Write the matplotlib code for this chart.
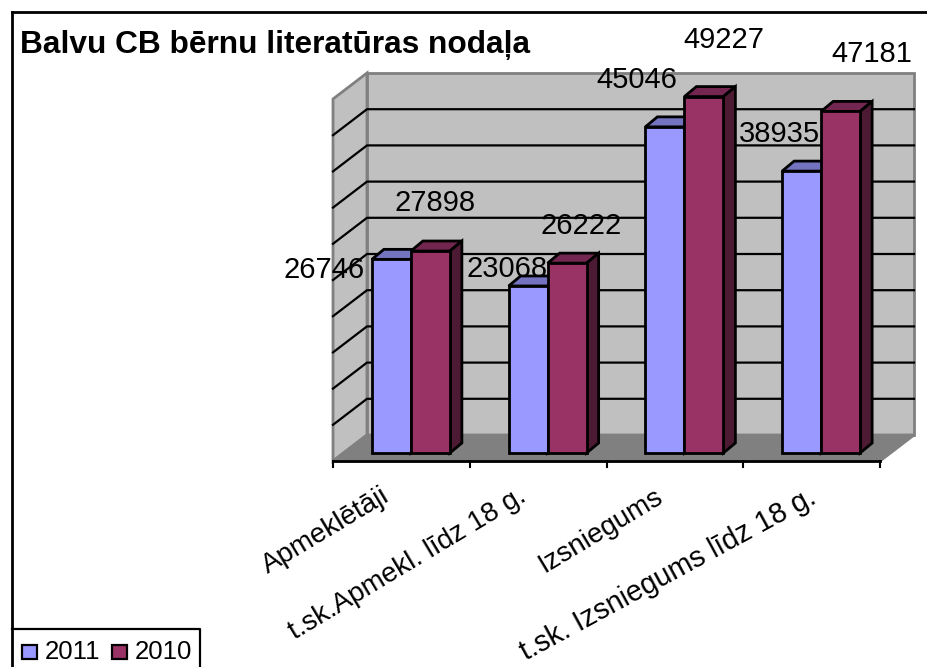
import matplotlib
matplotlib.use("Agg")
import matplotlib.pyplot as plt
from matplotlib.patches import Polygon, Rectangle

plt.rcParams['font.family'] = ['Liberation Sans', 'DejaVu Sans']

### data
categories = ['Apmeklētāji', 't.sk.Apmekl. līdz 18 g.', 'Izsniegums', 't.sk. Izsniegums līdz 18 g.']
years = ['2011', '2010']
v2011 = [26746, 23068, 45046, 38935]
v2010 = [27898, 26222, 49227, 47181]
y_ticks = [0, 5000, 10000, 15000, 20000, 25000, 30000, 35000, 40000, 45000, 50000]

### colours
blue, blue_top = '#9999FF', '#7373BF'
red, red_top, red_side = '#993366', '#732650', '#4D1A33'
wall, floor, edge = '#C0C0C0', '#808080', '#808080'

W, H = 928, 667
fig = plt.figure(figsize=(W/100, H/100), dpi=100)

# pixel layer for the frame, title and legend
bg = fig.add_axes([0, 0, 1, 1])
bg.set_xlim(0, W)
bg.set_ylim(H, 0)
bg.axis('off')

# front plane of the chart: 333..880 px, 461..99 px
x0, x1, y0, y1 = 333, 880, 461, 99
ax = fig.add_axes([x0/W, 1-y0/H, (x1-x0)/W, (y0-y1)/H])
ax.set_xlim(0, 4)
ax.set_ylim(0, 50000)
ax.axis('off')

px = 4/(x1-x0)
py = 50000/(y0-y1)
dx, dy = 34*px, 26*py       # depth of the box
bdx, bdy = 12*px, 10*py     # depth of a bar
sx, sy = 10.5*px, 8*py      # bar front plane behind chart front
bw = 39*px                  # bar width
lw = 2.0


def poly(pts, fc, ec='black', lw=lw, z=3):
    ax.add_patch(Polygon(pts, closed=True, fc=fc, ec=ec, lw=lw, zorder=z, clip_on=False, joinstyle='miter'))


# walls and floor
poly([(0, 0), (dx, dy), (dx, 50000+dy), (0, 50000)], wall, edge, 2, 1)
poly([(dx, dy), (4+dx, dy), (4+dx, 50000+dy), (dx, 50000+dy)], wall, edge, 2, 1)
poly([(0, 0), (4, 0), (4+dx, dy), (dx, dy)], floor, edge, 2, 1)
for t in y_ticks[1:-1]:
    ax.plot([0, dx, 4+dx], [t, t+dy, t+dy], color='black', lw=1.6, zorder=1.5, clip_on=False)

# axis line and ticks
ax.plot([0, 4], [0, 0], color='black', lw=2, zorder=2, clip_on=False)
for i in range(5):
    ax.plot([i, i], [0, -6*py], color='black', lw=1.5, clip_on=False)

# bars
for i in range(4):
    left = i + 0.5 - bw + sx - 0.5*px*2
    base = sy
    for k, (v, fc, top, side) in enumerate([(v2011[i], blue, blue_top, None), (v2010[i], red, red_top, red_side)]):
        xa = left + k*bw
        xb = xa + bw
        ya = base + v
        poly([(xa, ya), (xa+bdx, ya+bdy), (xb+bdx, ya+bdy), (xb, ya)], top, z=3+k)
        poly([(xb, base), (xb+bdx, base+bdy), (xb+bdx, ya+bdy), (xb, ya)], side or top, z=3+k)
        poly([(xa, base), (xb, base), (xb, ya), (xa, ya)], fc, z=3+k)

# data labels, offset in px from the top centre of each bar
lab_2011 = [(-67, 11), (-21, -17), (-28, -47), (-22, -37)]
lab_2010 = [(5, -48), (14, -37), (20, -57), (31, -57)]
for i in range(4):
    for k, (v, off) in enumerate([(v2011[i], lab_2011[i]), (v2010[i], lab_2010[i])]):
        xc = i + 0.5 + sx - px + (k-0.5)*bw
        ax.annotate(str(v), (xc, v+sy), xytext=(off[0]*0.72, -off[1]*0.72), textcoords='offset points',
                    ha='center', va='center', fontsize=21, color='black', zorder=10, annotation_clip=False)

# category labels
nudge = [-15, -15, -15, -3]
rot = [31, 31, 31, 28.5]
size = [20, 20, 20, 20.8]
for i, c in enumerate(categories):
    ax.annotate(c, (i+0.5, 0), xytext=(nudge[i], -16), textcoords='offset points', rotation=rot[i], rotation_mode='anchor',
                ha='right', va='top', fontsize=size[i], annotation_clip=False, clip_on=False)

# frame
bg.plot([12, 12], [12, 667], color='black', lw=2)
bg.plot([12, 928], [12, 12], color='black', lw=2)
bg.text(20, 45, 'Balvu CB bērnu literatūras nodaļa', fontsize=22.8, fontweight='bold', ha='left', va='center')

# legend
bg.plot([12, 200, 200], [629, 629, 667], color='black', lw=1.6)
for mx, fc, tx, lab in [(22, blue, 45, years[0]), (112, red, 135, years[1])]:
    bg.add_patch(Rectangle((mx, 645), 15, 14, fc=fc, ec='black', lw=1.6))
    bg.text(tx, 652, lab, fontsize=18.5, ha='left', va='center')

fig.savefig('out.png', dpi=100)
